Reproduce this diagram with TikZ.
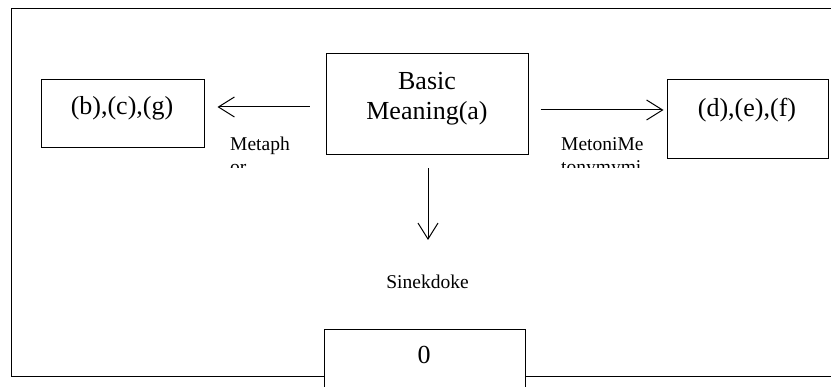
\documentclass[tikz,border=0pt]{standalone}
\usepackage{fontspec}
\setmainfont{Liberation Serif}
\usetikzlibrary{arrows.meta}
\begin{document}
\begin{tikzpicture}[x=1pt,y=-1pt,
  box/.style={draw,line width=1pt,fill=white,inner sep=0pt},
  bigtxt/.style={font=\fontsize{26}{30}\selectfont,inner sep=0pt},
  smalltxt/.style={font=\fontsize{19.5}{22.4}\selectfont,inner sep=0pt},
  arr/.style={line width=1pt,-{Straight Barb[length=16pt,width=20pt,line width=1pt]}}]
\clip (0,0) rectangle (831,387);
\fill[white] (0,0) rectangle (831,387);
% outer frame
\node[draw,line width=1.3pt,inner sep=0pt,minimum width=840pt,minimum height=368pt,anchor=north west] (frame) at (11,8) {};
% boxes
\node[box,minimum width=202pt,minimum height=101pt] (basic) at (427,104.5) {};
\node[box,minimum width=163pt,minimum height=68pt] (left) at (122.5,114) {};
\node[box,minimum width=161pt,minimum height=79pt] (right) at (747.5,119.5) {};
\node[box,minimum width=201pt,minimum height=80pt,anchor=north] (zero) at (424.5,329) {};
% texts
\node[bigtxt,align=center,anchor=base] (basicT1) at (427,90) {Basic};
\node[bigtxt,anchor=base] (basicT2) at (427,120) {Meaning(a)};
\node[bigtxt,anchor=base] (leftT) at (122,115) {(b),(c),(g)};
\node[bigtxt,anchor=base] (rightT) at (747,117) {(d),(e),(f)};
\node[bigtxt,anchor=base] (zeroT) at (424,364) {0};
\node[smalltxt,anchor=base] (sinek) at (427.5,289) {Sinekdoke};
\begin{scope}
\clip (200,125) rectangle (700,168);
\node[smalltxt,anchor=base west] (met1) at (230,151) {Metaph};
\node[smalltxt,anchor=base west] (met2) at (230,173.4) {or};
\node[smalltxt,anchor=base west] (mto1) at (561,151) {MetoniMe};
\node[smalltxt,anchor=base west] (mto2) at (561,173.4) {tonymymi};
\end{scope}
% arrows
\coordinate (downEnd) at (428,240);
\draw[arr,shorten <=16pt,shorten >=13pt] (basic.west|-0,107) -- (left.east|-0,107);
\draw[arr,shorten <=12pt,shorten >=3pt] (basic.east|-0,110) -- (right.west|-0,110);
\draw[arr,shorten <=13pt] (basic.south-|downEnd) -- (downEnd);
\end{tikzpicture}
\end{document}
